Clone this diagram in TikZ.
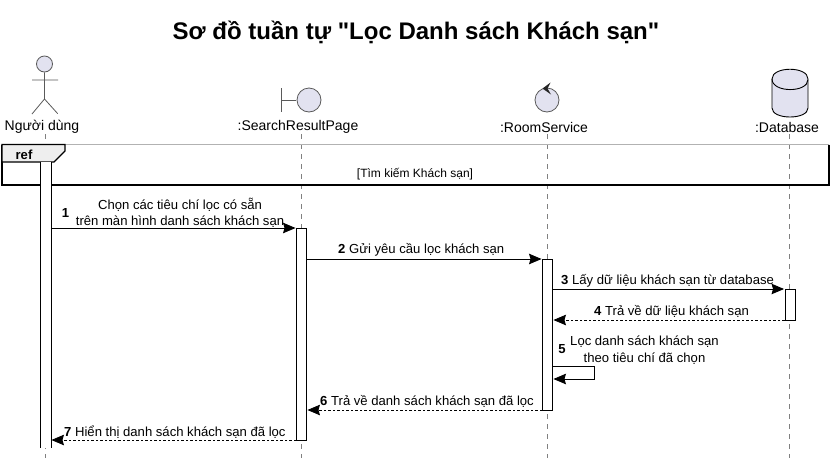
\documentclass[tikz,border=0pt]{standalone}
\usepackage{fontspec}
\setmainfont{Liberation Sans}[Ligatures=TeXOff]
\usetikzlibrary{arrows.meta,calc,positioning}
\definecolor{lifefill}{HTML}{E2E2F0}
\definecolor{iconline}{HTML}{5A5A5A}
\definecolor{tabfill}{HTML}{EEEEEE}
\tikzset{lbl/.style={inner sep=0pt, font=\fontsize{13.1}{16.5}\selectfont, align=center},
numlbl/.style={inner sep=0pt, font=\bfseries\fontsize{13.1}{16.5}\selectfont},
partlbl/.style={inner sep=0pt, font=\fontsize{14}{16}\selectfont},
activ/.style={draw=black, fill=white, line width=0.9pt, minimum width=10pt, inner sep=0pt},
life/.style={draw=black!50, line width=0.7pt, dash pattern=on 5pt off 5pt},
icon/.style={draw=iconline, fill=lifefill, line width=0.8pt}}

\begin{document}
\begin{tikzpicture}[x=1pt, y=-1pt, >={Stealth[length=12.5pt,width=10.5pt,inset=1.5pt]}, shorten >=0.5pt]
\useasboundingbox[fill=white] (0,0) rectangle (833,464);
\node[font=\bfseries\fontsize{24}{28}\selectfont, inner sep=0pt] (T) at (416,32.7) {Sơ đồ tuần tự "Lọc Danh sách Khách sạn"};
% participants
\node[partlbl] (U) at (42,127) {Người dùng};
\node[partlbl] (P) at (298,127) {:SearchResultPage};
\node[partlbl] (R) at (544,127) {:RoomService};
\node[partlbl] (D) at (787,127) {:Database};
% lifelines
\coordinate (E) at (0,458);
\coordinate (L0) at (45,134);
\coordinate (L1) at (301.5,134);
\coordinate (L2) at (547.5,134);
\coordinate (L3) at (789,134);
\path[life] (L0) edge (L0 |- E) (L1) edge (L1 |- E) (L2) edge (L2 |- E) (L3) edge (L3 |- E);
% icons
\node[icon, circle, minimum size=16pt, inner sep=0pt] (Uh) at (44.5,64) {};
\coordinate (Un) at (44.5,99);
\coordinate (Ua) at (32,80);
\coordinate (Ub) at (58,80);
\coordinate (Uc) at (32,114);
\coordinate (Ud) at (58,114);
\draw[draw=iconline, line width=0.8pt] (Uh) -- (Un) (Ua) -- (Ub) (Uc) -- (Un) -- (Ud);
\node[icon, circle, minimum size=24pt, inner sep=0pt] (Pc) at (309,100) {};
\coordinate (Pa) at (281,88);
\coordinate (Pb) at (281,112);
\coordinate (Pm) at (281,100);
\draw[draw=iconline, line width=0.8pt] (Pa) -- (Pb) (Pm) -- (Pc);
\node[icon, circle, minimum size=24pt, inner sep=0pt] (Rc) at (547,100) {};
\fill[black!85] (550.5,82.5) -- (542.5,88.5) -- (551,94.5) -- (547.5,88.5) -- cycle;
\draw[fill=lifefill, line width=0.9pt] (772,79) .. controls (772,66) and (808,66) .. (808,79) -- (808,108) .. controls (808,120) and (772,120) .. (772,108) -- cycle;
\draw[line width=0.9pt] (772,79) .. controls (772,93) and (808,93) .. (808,79);
% ref frame
\coordinate (F0) at (2,144.5);
\coordinate (F1) at (829,144.5);
\coordinate (F2) at (829,185);
\coordinate (F3) at (2,185);
\draw[draw=black!30, line width=0.7pt] (F0) -- (F1);
\draw[line width=1.2pt] (F1) -- (F2) -- (F3) -- (F0);
\draw[fill=tabfill, line width=1.2pt] (F0) -- (65,144.5) -- (65,151) -- (54,162) -- (2,162) -- cycle;
\node[numlbl] (Rf) at (24,155) {ref};
\node[lbl, font=\fontsize{12}{15}\selectfont] (Rt) at (415,173.7) {[Tìm kiếm Khách sạn]};
% activations
\node[activ, draw=none, minimum height=286pt] (A0) at (45.5,305) {};
\draw[line width=0.9pt] (A0.north west) -- (A0.south west) (A0.north east) -- (A0.south east);
\node[activ, minimum height=212pt] (A1) at (301.5,334) {};
\node[activ, minimum height=151pt] (A2) at (547.5,334.5) {};
\node[activ, minimum height=31pt] (A3) at (790,304.5) {};
% messages
\coordinate (M1) at (0,228);
\coordinate (M2) at (0,259);
\coordinate (M3) at (0,289);
\coordinate (M4) at (0,320);
\coordinate (M5) at (0,366.7);
\coordinate (M5b) at (0,379);
\coordinate (M5r) at (594.5,0);
\coordinate (M6) at (0,410);
\coordinate (M7) at (0,440);
\path[->, line width=0.9pt] (A0.east |- M1) edge (A1.west |- M1)
	(A1.east |- M2) edge (A2.west |- M2)
	(A2.east |- M3) edge (A3.west |- M3);
\path[->, line width=0.8pt, dash pattern=on 2.5pt off 2pt] (A3.west |- M4) edge (A2.east |- M4)
	(A2.west |- M6) edge (A1.east |- M6)
	(A1.west |- M7) edge (A0.east |- M7);
\draw[->, line width=0.9pt] (A2.east |- M5) -- (M5r |- M5) -- (M5r |- M5b) -- (A2.east |- M5b);
% message texts
\node[numlbl] (N1) at (65.5,212.5) {1};
\node[lbl] (X1) at (180,213) {Chọn các tiêu chí lọc có sẵn\\trên màn hình danh sách khách sạn};
\node[lbl, anchor=west] (X2) at (338,250) {\textbf{2} Gửi yêu cầu lọc khách sạn};
\node[lbl, anchor=west] (X3) at (561,281) {\textbf{3} Lấy dữ liệu khách sạn từ database};
\node[lbl, anchor=west] (X4) at (594,311.5) {\textbf{4} Trả về dữ liệu khách sạn};
\node[numlbl] (N5) at (562,349.5) {5};
\node[lbl] (X5) at (644.5,350) {Lọc danh sách khách sạn\\theo tiêu chí đã chọn};
\node[lbl, anchor=west] (X6) at (320,401) {\textbf{6} Trả về danh sách khách sạn đã lọc};
\node[lbl, anchor=west] (X7) at (64,432) {\textbf{7} Hiển thị danh sách khách sạn đã lọc};
\end{tikzpicture}
\end{document}
